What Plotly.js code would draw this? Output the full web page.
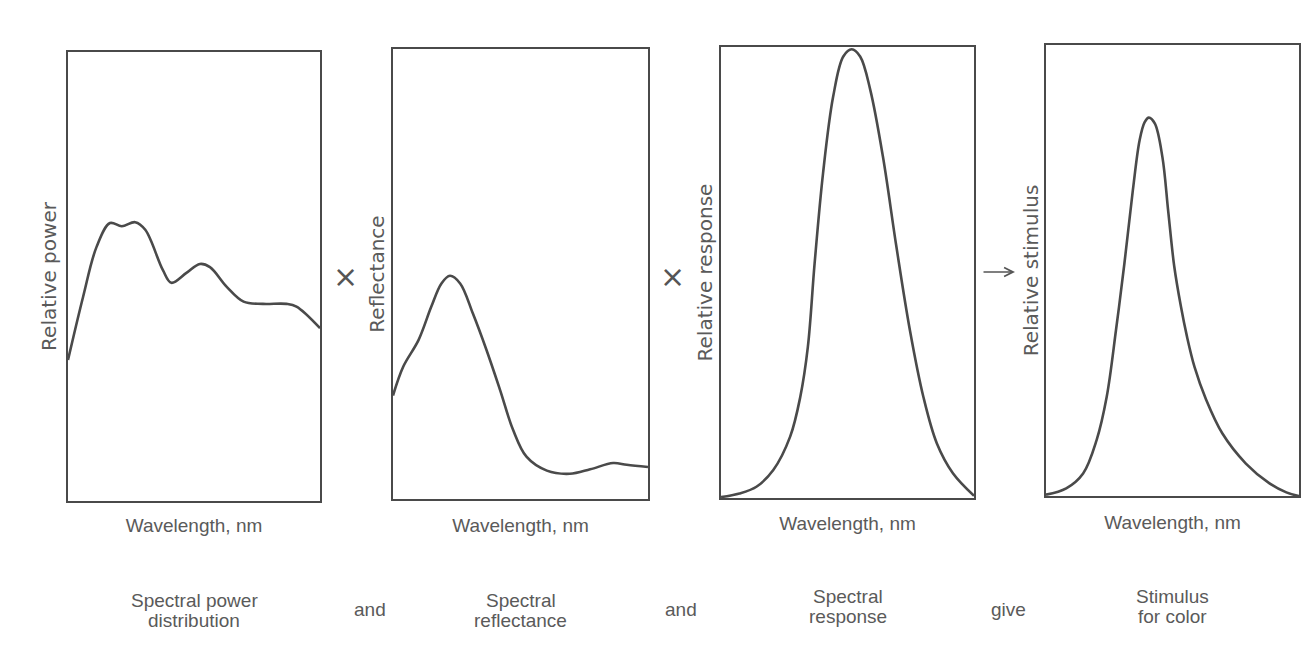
<!DOCTYPE html>
<html>
<head>
<meta charset="utf-8">
<script src="https://cdn.plot.ly/plotly-3.0.1.min.js"></script>
<style>html,body{margin:0;padding:0;background:#fff;}#chart{width:1303px;height:648px;}</style>
</head>
<body>
<div id="chart"></div>
<script>
// ---- data (arbitrary relative units, x = wavelength nm) ----
const wlPower = [400, 418, 434, 450, 464, 480, 492, 513, 523, 541, 557, 569, 589, 609, 632, 660, 672, 700];
const power   = [0.314, 0.455, 0.566, 0.619, 0.612, 0.621, 0.604, 0.514, 0.486, 0.508, 0.528, 0.521, 0.477, 0.444, 0.439, 0.439, 0.433, 0.385];

const wlRefl = [400, 412, 430, 445, 457, 467, 479, 494, 510, 526, 541, 557, 581, 608, 632, 659, 675, 700];
const refl   = [0.23, 0.294, 0.353, 0.427, 0.479, 0.496, 0.479, 0.412, 0.331, 0.242, 0.155, 0.094, 0.063, 0.056, 0.066, 0.080, 0.076, 0.071];

const wlResp = [400, 422, 442, 462, 482, 494, 503, 511, 521, 533, 545, 555, 565, 577, 592, 608, 624, 640, 656, 675, 700];
const resp   = [0.002, 0.010, 0.025, 0.062, 0.136, 0.224, 0.335, 0.520, 0.720, 0.890, 0.979, 0.995, 0.979, 0.905, 0.757, 0.557, 0.372, 0.224, 0.121, 0.055, 0.005];

const wlStim = [400, 424, 444, 460, 472, 483, 493, 503, 511, 517, 522, 529, 538, 545, 552, 560, 567, 576, 590, 609, 637, 665, 685, 700];
const stim   = [0.003, 0.017, 0.050, 0.124, 0.220, 0.368, 0.516, 0.678, 0.789, 0.829, 0.839, 0.826, 0.752, 0.630, 0.510, 0.420, 0.355, 0.287, 0.213, 0.139, 0.072, 0.028, 0.008, 0.0];

const yTitles = ["Relative power", "Reflectance", "Relative response", "Relative stimulus"];
const xTitle = "Wavelength, nm";
const captions = [["Spectral power", "distribution"], ["Spectral", "reflectance"], ["Spectral", "response"], ["Stimulus", "for color"]];
const connectors = ["and", "and", "give"];
const operators = ["×", "×"];

// ---- layout ----
const W = 1303, H = 648;
const px = x => x / W;
const py = y => 1 - y / H;
const boxes = [
  {l: 68, r: 320, t: 52, b: 501, ys: 4, xs: 17},
  {l: 393, r: 648, t: 49, b: 499, ys: 1, xs: 19},
  {l: 721, r: 974, t: 47, b: 498, ys: 1, xs: 18},
  {l: 1046, r: 1299, t: 45, b: 496, ys: 0, xs: 19}
];
const ink = '#4a4a4a';
const textCol = '#5a5a5a';
const series = [[wlPower, power], [wlRefl, refl], [wlResp, resp], [wlStim, stim]];

const traces = series.map((s, i) => ({
  x: s[0], y: s[1], type: 'scatter', mode: 'lines',
  line: {color: ink, width: 2.6, shape: 'spline', smoothing: 1},
  xaxis: i === 0 ? 'x' : 'x' + (i + 1),
  yaxis: i === 0 ? 'y' : 'y' + (i + 1),
  hoverinfo: 'skip', showlegend: false
}));

const layout = {
  width: W, height: H,
  margin: {l: 0, r: 0, t: 0, b: 0},
  paper_bgcolor: '#fff', plot_bgcolor: '#fff',
  showlegend: false,
  annotations: [],
  font: {family: 'Liberation Sans, Arial, sans-serif', color: textCol}
};

boxes.forEach((b, i) => {
  const k = i === 0 ? '' : String(i + 1);
  layout['xaxis' + k] = {
    domain: [px(b.l), px(b.r)], range: [400, 700], anchor: 'y' + k,
    showline: true, mirror: true, linecolor: ink, linewidth: 2,
    showgrid: false, zeroline: false, showticklabels: false, ticks: '', fixedrange: true,
    title: {text: xTitle, standoff: b.xs, font: {family: 'Liberation Sans, Arial, sans-serif', size: 19, color: textCol}}
  };
  layout['yaxis' + k] = {
    domain: [py(b.b), py(b.t)], range: [0, 1], anchor: 'x' + k,
    showline: true, mirror: true, linecolor: ink, linewidth: 2,
    showgrid: false, zeroline: false, showticklabels: false, ticks: '', fixedrange: true,
    title: {text: yTitles[i], standoff: b.ys, font: {family: 'DejaVu Sans, sans-serif', size: 20, color: textCol}}
  };
  const cx = (b.l + b.r) / 2;
  const capY = i < 2 ? [600, 620] : [596, 616];
  captions[i].forEach((line, j) => {
    layout.annotations.push({
      text: line, xref: 'paper', yref: 'paper', x: px(cx), y: py(capY[j]),
      xanchor: 'center', yanchor: 'middle', showarrow: false,
      font: {family: 'Liberation Sans, Arial, sans-serif', size: 19, color: textCol}
    });
  });
});

const connX = [370, 681, 1008];
connectors.forEach((t, i) => {
  layout.annotations.push({
    text: t, xref: 'paper', yref: 'paper', x: px(connX[i]), y: py(609),
    xanchor: 'center', yanchor: 'middle', showarrow: false,
    font: {family: 'Liberation Sans, Arial, sans-serif', size: 19, color: textCol}
  });
});

const opX = [345, 672];
operators.forEach((t, i) => {
  layout.annotations.push({
    text: t, xref: 'paper', yref: 'paper', x: px(opX[i]), y: py(276),
    xanchor: 'center', yanchor: 'middle', showarrow: false,
    font: {family: 'DejaVu Sans, sans-serif', size: 30, color: '#555'}
  });
});

// arrow between panel 3 and 4
layout.annotations.push({
  text: '', xref: 'paper', yref: 'paper', x: px(1015), y: py(272),
  ax: -33, ay: 0, showarrow: true, arrowhead: 5, arrowsize: 1.1, arrowwidth: 1.6, arrowcolor: '#555'
});

Plotly.newPlot('chart', traces, layout, {displayModeBar: false, staticPlot: true});
</script>
</body>
</html>
